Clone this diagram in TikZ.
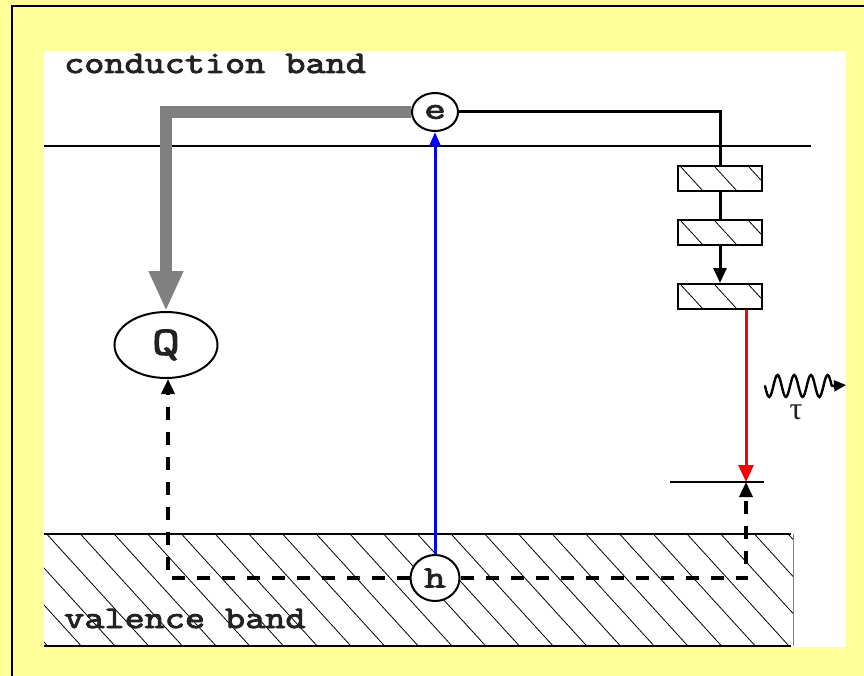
\documentclass[tikz,border=0pt]{standalone}
\usepackage{graphicx}
\usepackage{fontspec}
\newfontfamily\cour[FakeStretch=1.35,FakeBold=3]{Latin Modern Mono}
\newfontfamily\courlbl[FakeStretch=1.24,FakeBold=3]{Latin Modern Mono}
\newfontfamily\taufont{Liberation Serif}
\usetikzlibrary{arrows.meta,shapes.geometric}
\definecolor{bgyellow}{HTML}{FFFF99}
\definecolor{arrowgray}{HTML}{808080}
\definecolor{arrowblue}{HTML}{0000FF}
\definecolor{arrowred}{HTML}{FF0000}
\definecolor{inkdark}{HTML}{222222}
\tikzset{
  lbl/.style={inner sep=0pt, text=inkdark, font=\courlbl\fontsize{31.5}{31.5}\selectfont},
  particle/.style={ellipse, draw, line width=2pt, fill=white, inner sep=0pt, text=inkdark},
  trapbox/.style={draw, line width=2pt, minimum width=84pt, minimum height=25pt, inner sep=0pt},
  hatchline/.style={line width=0.8pt},
  bandline/.style={line width=2pt},
  dashconn/.style={line width=3.5pt, dash pattern=on 13pt off 12pt, -{Triangle[length=15pt,width=13pt]}},
  solidconn/.style={line width=3pt},
}
\begin{document}
\begin{tikzpicture}[x=1pt,y=-1pt]
\useasboundingbox (0,0) rectangle (864,676);
% background
\fill[bgyellow] (0,0) rectangle (864,676);
\draw[line width=2pt] (12,680) -- (12,6.5) -- (870,6.5);
\fill[white] (44,51) rectangle (846,647);

% valence band hatching
\begin{scope}
  \clip (44,534) rectangle (793,646);
  \foreach \i in {-4,...,23} {
    \draw[hatchline] ({46.7+33.7*\i},534) -- ++(102,112);
  }
\end{scope}
\draw[line width=1pt, gray] (793,534) -- (793,646);
\draw[bandline] (44,534) -- (791,534);
\draw[bandline] (44,646) -- (791,646);

% conduction band line
\draw[bandline] (44,146) -- (811,146);

% level line
\coordinate (lev) at (746,482);
\draw[bandline] (670,482) -- (764,482);

% trap boxes hatching
\foreach \t in {166,220,284} {
  \begin{scope}
    \clip (678,\t) rectangle (762,\t+25);
    \foreach \i in {-1,0,1,2} {
      \draw[hatchline] ({680+34*\i},\t) -- ++(23,25);
    }
  \end{scope}
}
\node[trapbox] (b1) at (720,179) {};
\node[trapbox] (b2) at (720,232.5) {};
\node[trapbox] (b3) at (720,296.5) {};

% particles
\node[particle, minimum width=46pt, minimum height=38pt] (e) at (435,112)
  {\cour\fontsize{31}{31}\selectfont e};
\node[particle, minimum width=49pt, minimum height=46pt] (h) at (435,578)
  {\cour\fontsize{31}{31}\selectfont h};
\node[particle, minimum width=103pt, minimum height=66pt] (Q) at (166,345)
  {\cour\fontsize{40}{40}\selectfont Q};

% labels
\node[lbl, anchor=base west] (cb) at (64,73) {conduction band};
\node[lbl, anchor=base west] (vb) at (64,628) {valence band};

% connectors
\draw[line width=12pt, arrowgray, -{Triangle[length=40pt,width=32pt]}] (e.west) -| (Q.north);
\draw[line width=3pt, arrowblue, -{Triangle[length=14pt,width=11pt]}] (h.north) -- (e.south);
\draw[solidconn] (e.east) -| (b1.north);
\draw[solidconn] (b1.south) -- (b2.north);
\draw[solidconn, -{Triangle[length=15pt,width=13pt]}] (b2.south) -- (b3.north);
\draw[line width=3pt, arrowred, -{Triangle[length=17pt,width=15pt]}] ([xshift=26pt]b3.south) -- (lev);
\draw[dashconn] (h.west) -| ([xshift=2pt]Q.south);
\draw[dashconn] (h.east) -| (lev);

% emitted photon
\coordinate (wstart) at (765,386);
\coordinate (wend) at (846,385);
\draw[line width=2.4pt, line cap=round]
  (wstart)
  \foreach \k in {0,1,2,3} {
    sin ++(4.175,11) cos ++(4.175,-11) sin ++(4.175,-11) cos ++(4.175,11)
  };
\draw[line width=2.4pt, -{Triangle[length=12pt,width=11pt]}] (831.8,386) -- (wend);
\node[font=\taufont\fontsize{32}{32}\selectfont, inner sep=0pt, text=inkdark] (tau) at (796,412) {τ};
\end{tikzpicture}
\end{document}
